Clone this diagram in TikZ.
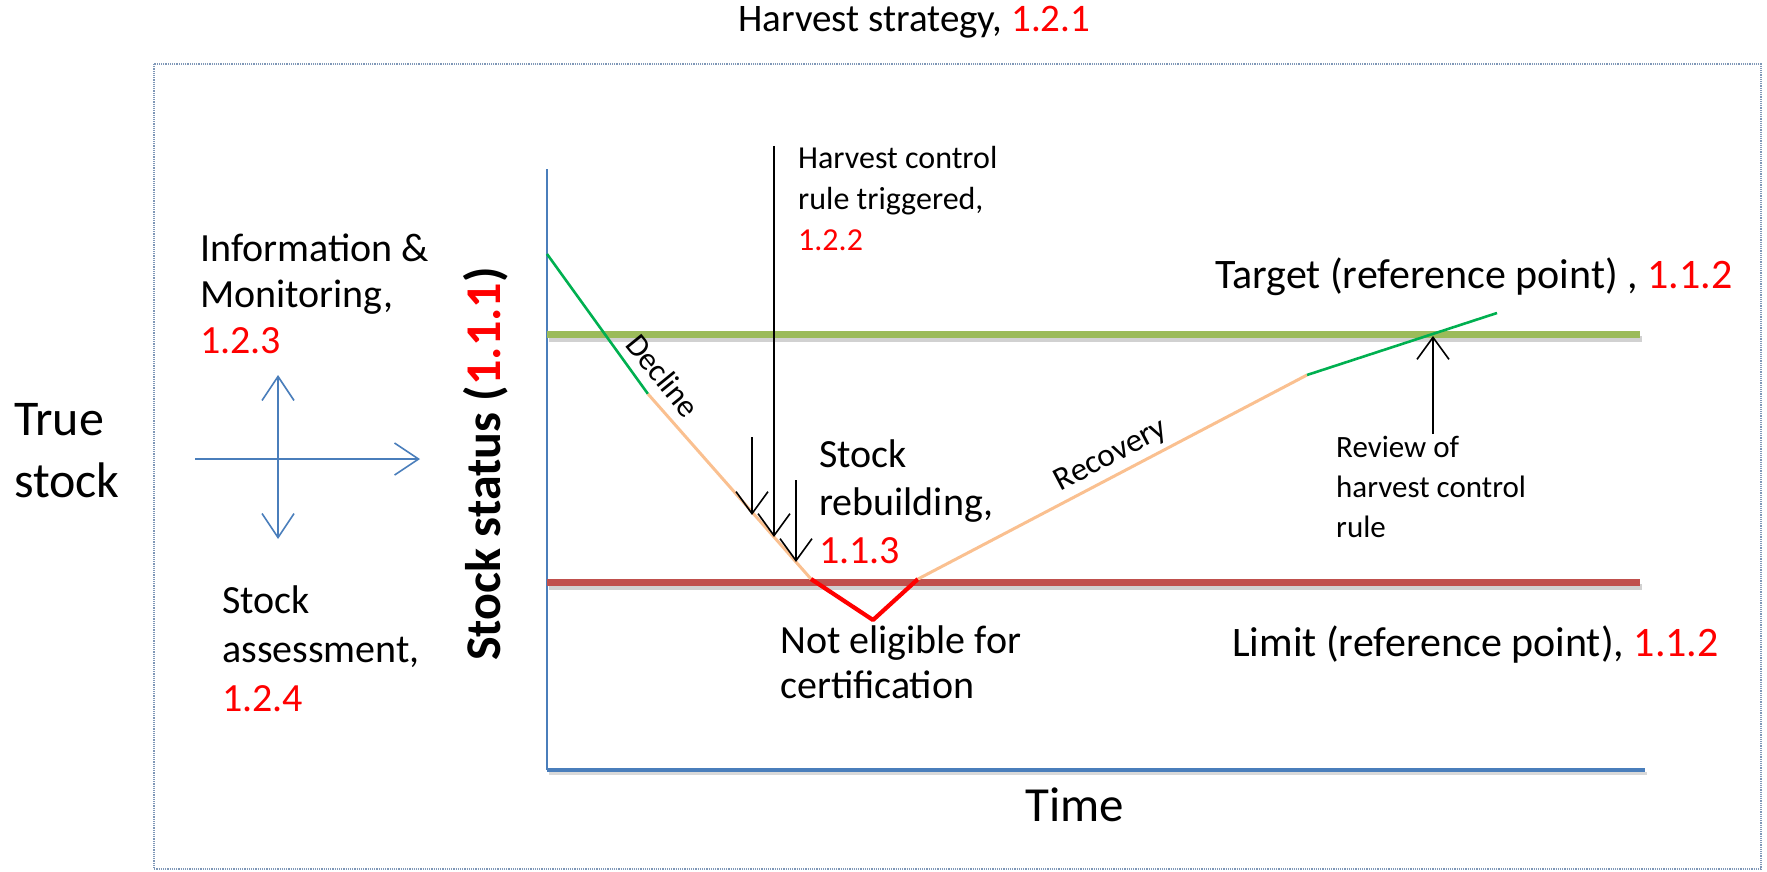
\documentclass[tikz,border=0pt]{standalone}
\usepackage{fontspec}
\setmainfont{Carlito}
\usetikzlibrary{arrows.meta}
\definecolor{axisblue}{HTML}{4A7EBB}
\definecolor{framecol}{HTML}{7F97B7}
\definecolor{targetgreen}{HTML}{9BBB59}
\definecolor{limitred}{HTML}{C0504D}
\definecolor{trendgreen}{HTML}{00B050}
\definecolor{peach}{HTML}{FAC090}
\definecolor{numred}{HTML}{FF0000}
\newcommand\myfs[2]{\fontsize{#1}{#2}\selectfont}
\newcommand\rn[1]{\textcolor{numred}{#1}}
\begin{document}
\begin{tikzpicture}[x=1pt,y=-1pt,
  txt/.style={inner sep=0pt, align=left, anchor=base west},
  barb/.style={-{Straight Barb[length=22pt,width=32pt]}},
  blackarrow/.style={barb, line width=1.6pt, black},
  bluearrow/.style={line width=1.6pt, axisblue},
  blueone/.style={-{Straight Barb[length=24pt,width=32pt]}},
  bluetwo/.style={{Straight Barb[length=24pt,width=32pt]}-{Straight Barb[length=24pt,width=32pt]}},
  refline/.style={line width=7pt},
  shadowline/.style={line width=6pt, black!18},
  trend/.style={line width=2.6pt}]
\useasboundingbox (0,0) rectangle (1767,872);
% frame
\draw[framecol, line width=1.2pt, densely dotted] (154,64) rectangle (1761,869);
% title
\node[txt, font={\myfs{39}{47}}] (title) at (738,32) {Harvest strategy, \rn{1.2.1}};
% left texts (anchor = baseline of last line)
\node[txt, font={\myfs{50}{62}}] (truestock) at (14,497) {True\\stock};
\node[txt, font={\myfs{40}{46}}] (info) at (200,353) {Information \&\\Monitoring,\\\rn{1.2.3}};
\node[txt, font={\myfs{40}{49}}] (assess) at (222,711) {Stock\\assessment,\\\rn{1.2.4}};
% cross arrows
\coordinate (hl) at (195,459);
\coordinate (hr) at (420,459);
\coordinate (vt) at (278,375);
\coordinate (vb) at (278,539);
\draw[bluearrow, blueone] (hl) -- (hr);
\draw[bluearrow, bluetwo] (vt) -- (vb);
% axis label
\node[rotate=90, inner sep=0pt, font={\myfs{50}{60}\bfseries}] (status) at (486,464) {Stock status (\rn{1.1.1})};
% axes
\coordinate (origin) at (547,770);
\coordinate (ytop) at (547,169);
\coordinate (xend) at (1645,770);
\draw[black!15, line width=3pt] (549,773) -- (1647,773);
\draw[axisblue, line width=1.6pt] (ytop) -- (origin);
\draw[axisblue, line width=3.2pt] (origin) -- (xend);
\node[inner sep=0pt, anchor=base, font={\myfs{49}{59}}] (time) at (1075,821) {Time};
% reference lines
\coordinate (tl) at (547,334);
\coordinate (tr) at (1640,334);
\coordinate (ll) at (547,582);
\coordinate (lr) at (1640,582);
\draw[shadowline] (549,339) -- (1642,339);
\draw[shadowline] (549,587) -- (1642,587);
\draw[refline, targetgreen] (tl) -- (tr);
\draw[refline, limitred] (ll) -- (lr);
\node[txt, font={\myfs{42}{50}}] (target) at (1215,288) {Target (reference point) , \rn{1.1.2}};
\node[txt, font={\myfs{42}{50}}] (limit) at (1232,656) {Limit (reference point), \rn{1.1.2}};
% stock trajectory
\coordinate (d0) at (547,254);
\coordinate (d1) at (648,394);
\coordinate (d2) at (811,579);
\coordinate (v0) at (873,620);
\coordinate (r0) at (918,579);
\coordinate (r1) at (1307,375);
\coordinate (r2) at (1497,313);
\draw[trend, trendgreen] (d0) -- (d1);
\draw[trend, peach, line width=3pt] (d1) -- (d2);
\draw[numred, line width=4.2pt, line join=round] (d2) -- (v0) -- (r0);
\draw[trend, peach, line width=3pt] (r0) -- (r1);
\draw[trend, trendgreen] (r1) -- (r2);
\path (d0) -- (d2) node[pos=0.40, sloped, above, inner sep=2pt, font={\myfs{32}{38}}] (decline) {Decline};
\path (r0) -- (r1) node[pos=0.52, sloped, above, inner sep=6pt, font={\myfs{33}{40}}] (recovery) {Recovery};
% harvest control rule arrows
\coordinate (a1s) at (752,437);
\coordinate (a1e) at (752,515);
\coordinate (a2s) at (774,146);
\coordinate (a2e) at (774,537);
\coordinate (a3s) at (796,480);
\coordinate (a3e) at (796,562);
\draw[blackarrow] (a1s) -- (a1e);
\draw[blackarrow] (a2s) -- (a2e);
\draw[blackarrow] (a3s) -- (a3e);
\node[txt, font={\myfs{32}{41}}] (hcr) at (798,250) {Harvest control\\rule triggered,\\\rn{1.2.2}};
\node[txt, font={\myfs{40}{48}}] (rebuild) at (819,563) {Stock\\rebuilding,\\\rn{1.1.3}};
\node[txt, font={\myfs{40}{45}}] (noteligible) at (780,698) {Not eligible for\\certification};
% review
\coordinate (rvs) at (1433,434);
\coordinate (rve) at (1433,336);
\draw[blackarrow] (rvs) -- (rve);
\node[txt, font={\myfs{31}{40}}] (review) at (1336,537) {Review of\\harvest control\\rule};
\end{tikzpicture}
\end{document}
